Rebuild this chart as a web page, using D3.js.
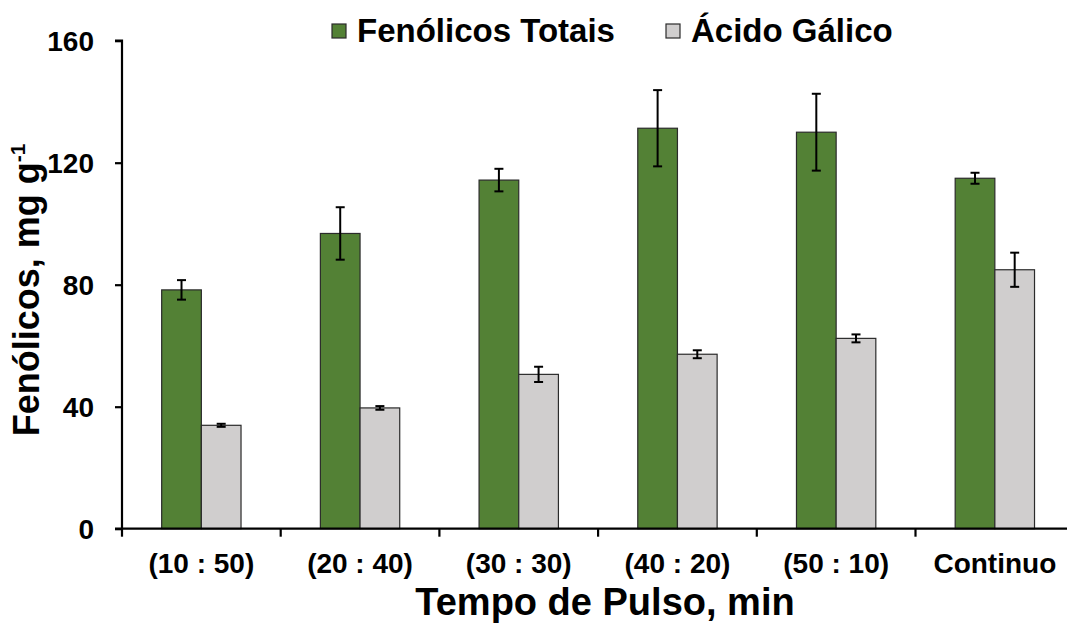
<!DOCTYPE html>
<html>
<head>
<meta charset="utf-8">
<script src="https://cdn.jsdelivr.net/npm/d3@7"></script>
<style>
  html, body { margin: 0; padding: 0; background: #fff; }
  svg { display: block; font-family: "Liberation Sans", Arial, sans-serif; font-weight: bold; }
</style>
</head>
<body>
<svg id="chart" width="1067" height="624"></svg>
<script>
// Pulse-time treatments
const categories = ["(10 : 50)", "(20 : 40)", "(30 : 30)", "(40 : 20)", "(50 : 10)", "Continuo"];
// Series names
const seriesNames = ["Fenólicos Totais", "Ácido Gálico"];
// Total phenolics (mg g-1) and standard deviation
const totalPhenolics = [78.3, 96.8, 114.3, 131.3, 130.0, 114.9];
const totalPhenolicsErr = [3.2, 8.6, 3.7, 12.5, 12.6, 1.8];
// Gallic acid (mg g-1) and standard deviation
const gallicAcid = [33.9, 39.6, 50.6, 57.2, 62.4, 84.9];
const gallicAcidErr = [0.5, 0.6, 2.5, 1.3, 1.3, 5.6];
// Axis ticks
const yTicks = [0, 40, 80, 120, 160];

const colors = ["#538135", "#D0CECE"];

const svg = d3.select("#chart");
const plotLeft = 122, plotTop = 40.7, plotBottom = 528.7;
const bandW = 158.7;

const x0 = d3.scaleBand().domain(categories)
  .range([plotLeft, plotLeft + bandW * categories.length]).paddingInner(0).paddingOuter(0);
const x1 = d3.scaleBand().domain(seriesNames)
  .range([x0.bandwidth() * 0.25, x0.bandwidth() * 0.75]).padding(0);
const y = d3.scaleLinear().domain([0, 160]).range([plotBottom, plotTop]);

const rows = categories.map((c, i) => ({
  cat: c,
  vals: [
    { s: seriesNames[0], v: totalPhenolics[i], e: totalPhenolicsErr[i], c: colors[0] },
    { s: seriesNames[1], v: gallicAcid[i], e: gallicAcidErr[i], c: colors[1] }
  ]
}));

// Bars
const groups = svg.append("g").selectAll("g").data(rows).join("g")
  .attr("transform", d => `translate(${x0(d.cat)},0)`);

groups.selectAll("rect").data(d => d.vals).join("rect")
  .attr("x", d => x1(d.s))
  .attr("y", d => y(d.v))
  .attr("width", x1.bandwidth())
  .attr("height", d => y(0) - y(d.v))
  .attr("fill", d => d.c)
  .attr("stroke", "#2b2b2b")
  .attr("stroke-width", 1.2);

// Error bars
const eb = groups.selectAll("g.err").data(d => d.vals).join("g").attr("class", "err")
  .attr("stroke", "#000").attr("stroke-width", 2);
eb.append("line")
  .attr("x1", d => x1(d.s) + x1.bandwidth() / 2)
  .attr("x2", d => x1(d.s) + x1.bandwidth() / 2)
  .attr("y1", d => y(d.v + d.e)).attr("y2", d => y(d.v - d.e));
[1, -1].forEach(sgn => {
  eb.append("line")
    .attr("x1", d => x1(d.s) + x1.bandwidth() / 2 - 4.5)
    .attr("x2", d => x1(d.s) + x1.bandwidth() / 2 + 4.5)
    .attr("y1", d => y(d.v + sgn * d.e)).attr("y2", d => y(d.v + sgn * d.e));
});

// Y axis
const yAxis = d3.axisLeft(y).tickValues(yTicks).tickSize(7).tickPadding(20).tickFormat(d3.format("d"));
const gy = svg.append("g").attr("transform", `translate(${plotLeft},0)`).call(yAxis);
gy.select(".domain").attr("stroke", "#000").attr("stroke-width", 2.2).attr("d", `M-7,${plotTop}H0V${plotBottom}`);
gy.selectAll(".tick line").attr("stroke", "#000").attr("stroke-width", 2.2);
gy.selectAll(".tick text").attr("fill", "#000")
  .style("font-size", "28px").style("font-weight", "bold")
  .attr("dy", "0.36em").attr("x", -28);

// X axis: baseline plus boundary ticks
const gx = svg.append("g");
gx.append("line").attr("x1", plotLeft - 7).attr("x2", x0.range()[1])
  .attr("y1", plotBottom).attr("y2", plotBottom).attr("stroke", "#000").attr("stroke-width", 2.2);
const boundaries = categories.map(c => x0(c)).concat([x0.range()[1]]);
gx.selectAll("line.tk").data(boundaries).join("line").attr("class", "tk")
  .attr("x1", d => d).attr("x2", d => d)
  .attr("y1", plotBottom).attr("y2", plotBottom + 8)
  .attr("stroke", "#000").attr("stroke-width", 2.2);
gx.selectAll("text").data(categories).join("text")
  .attr("x", d => x0(d) + x0.bandwidth() / 2)
  .attr("y", 573)
  .attr("text-anchor", "middle")
  .style("font-size", "28px")
  .text(d => d);

// Axis titles
svg.append("text").attr("x", 605).attr("y", 615).attr("text-anchor", "middle")
  .style("font-size", "38px").text("Tempo de Pulso, min");

const yt = svg.append("text")
  .attr("transform", "translate(39,290) rotate(-90)")
  .attr("text-anchor", "middle")
  .style("font-size", "36px");
yt.append("tspan").text("Fenólicos, mg g");
yt.append("tspan").attr("dy", "-14").style("font-size", "21px").text("-1");

// Legend
const legend = [
  { name: seriesNames[0], c: colors[0], x: 332 },
  { name: seriesNames[1], c: colors[1], x: 666 }
];
const lg = svg.append("g").selectAll("g").data(legend).join("g")
  .attr("transform", d => `translate(${d.x},0)`);
lg.append("rect").attr("x", 0).attr("y", 24).attr("width", 14).attr("height", 14)
  .attr("fill", d => d.c).attr("stroke", "#2b2b2b").attr("stroke-width", 1.2);
lg.append("text").attr("x", 25).attr("y", 42).style("font-size", "33px").text(d => d.name);
</script>
</body>
</html>
